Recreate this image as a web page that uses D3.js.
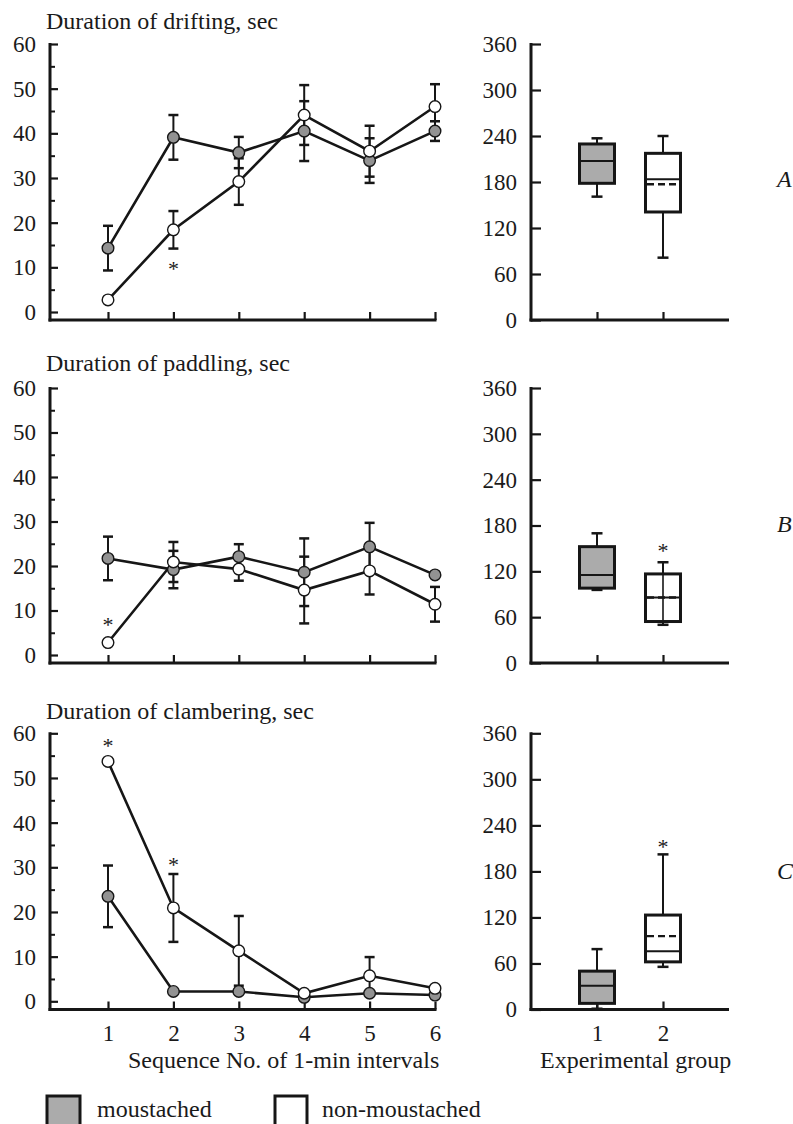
<!DOCTYPE html>
<html><head><meta charset="utf-8">
<script src="https://cdn.jsdelivr.net/npm/d3@7"></script>
<style>
body{margin:0;background:#fff;}
svg{display:block;}
text{font-family:"Liberation Serif","Times New Roman",serif;fill:#1a1a1a;}
</style></head><body>
<svg id="chart" width="793" height="1124"></svg>
<script>
// ---------- data ----------
const intervals = [1, 2, 3, 4, 5, 6];
const groups = [1, 2];
const panelTitles = ["Duration of drifting, sec", "Duration of paddling, sec", "Duration of clambering, sec"];
const panelLetters = ["A", "B", "C"];
const leftTicks = [0, 10, 20, 30, 40, 50, 60];
const leftMinorTicks = [5, 15, 25, 35, 45, 55];
const rightTicks = [0, 60, 120, 180, 240, 300, 360];
const seriesNames = ["moustached", "non-moustached"];
const xAxisTitle = "Sequence No. of 1-min intervals";
const groupAxisTitle = "Experimental group";

// drifting (A)
const driftM     = [14.3, 39.1, 35.7, 40.5, 33.9, 40.5];
const driftMErr  = [5.0, 5.0, 3.5, 6.7, 5.0, 2.2];
const driftN     = [2.7, 18.4, 29.2, 44.1, 36.0, 46.0];
const driftNErr  = [0, 4.2, 5.2, 6.7, 5.7, 5.0];
// paddling (B)
const paddleM    = [21.7, 19.2, 22.1, 18.6, 24.3, 18.0];
const paddleMErr = [4.9, 4.2, 2.8, 7.6, 5.4, 0];
const paddleN    = [2.8, 20.9, 19.3, 14.6, 18.9, 11.4];
const paddleNErr = [0, 4.5, 2.6, 7.5, 5.3, 3.9];
// clambering (C)
const climbM     = [23.5, 2.2, 2.2, 0.9, 1.8, 1.4];
const climbMErr  = [6.9, 0, 0, 0, 0, 0];
const climbN     = [53.7, 20.9, 11.3, 1.8, 5.7, 2.9];
const climbNErr  = [0, 7.6, 7.8, 0, 4.2, 0];

// significance asterisks on the line charts (interval, value)
const lineStars = [[[2, 10.5]], [[1, 7.5]], [[1, 57.9], [2, 31.3]]];

// box plots, per panel [group1, group2]
const boxMin    = [[160.9, 81.3], [95.7, 50.0], [1.0, 55.6]];
const boxQ1     = [[178.3, 140.9], [98.0, 54.3], [8.0, 62.1]];
const boxMedian = [[207.4, 183.5], [115.3, 85.7], [31.0, 76.0]];
const boxMean   = [[null, 177.0], [null, 85.7], [null, 95.6]];
const boxQ3     = [[229.6, 217.4], [152.3, 116.6], [50.0, 123.1]];
const boxMax    = [[237.0, 240.0], [169.8, 131.9], [78.7, 202.2]];
const boxWhiskerThrough = [[false, false], [false, true], [false, false]];
const boxStars  = [[], [[2, 151]], [[2, 217]]];

// ---------- drawing ----------
const lineM = [driftM, paddleM, climbM];
const lineMErr = [driftMErr, paddleMErr, climbMErr];
const lineN = [driftN, paddleN, climbN];
const lineNErr = [driftNErr, paddleNErr, climbNErr];

const INK = "#161616";
const GREY_MARK = "#929292";
const GREY_BOX = "#ababab";
const fmt = d3.format("d");

const panelGeom = [
  {top: 44, zero: 312, base: 320, titleY: 29, letterY: 187},
  {top: 388, zero: 655, base: 663, titleY: 371, letterY: 532},
  {top: 733.3, zero: 1001.3, base: 1009.5, titleY: 719, letterY: 879}
];

const svg = d3.select("#chart");

panelGeom.forEach((g, i) => {
  const x = d3.scaleLinear().domain([1, 6]).range([108, 435]);
  const y = d3.scaleLinear().domain([0, 60]).range([g.zero, g.top]);
  const xR = d3.scaleLinear().domain([0, 3]).range([531, 729]);
  const yR = d3.scaleLinear().domain([0, 360]).range([g.base, g.top]);

  // title
  svg.append("text").attr("x", 46).attr("y", g.titleY)
    .attr("font-size", 24).text(panelTitles[i]);

  // ---- left chart axes ----
  const ay = svg.append("g").attr("transform", "translate(50,0)")
    .call(d3.axisLeft(y).tickValues(leftTicks).tickFormat(fmt).tickSizeInner(-8).tickSizeOuter(0).tickPadding(14));
  ay.attr("font-size", 23);
  ay.select(".domain").remove();
  ay.selectAll("line").attr("stroke", INK).attr("stroke-width", 2.2);

  const aym = svg.append("g").attr("transform", "translate(50,0)")
    .call(d3.axisLeft(y).tickValues(leftMinorTicks).tickSizeInner(-5).tickSizeOuter(0).tickFormat(""));
  aym.select(".domain").remove();
  aym.selectAll("line").attr("stroke", INK).attr("stroke-width", 2);

  const ax = svg.append("g").attr("transform", `translate(0,${g.base})`)
    .call(d3.axisBottom(x).tickValues(intervals).tickFormat(fmt).tickSizeInner(-8).tickSizeOuter(0).tickPadding(15));
  ax.attr("font-size", 23);
  ax.select(".domain").remove();
  ax.selectAll("line").attr("stroke", INK).attr("stroke-width", 2.2);
  if (i < 2) ax.selectAll("text").remove();

  svg.append("line").attr("x1", 50).attr("x2", 50).attr("y1", g.top - 1).attr("y2", g.base + 1.5)
    .attr("stroke", INK).attr("stroke-width", 3);
  svg.append("line").attr("x1", 48.5).attr("x2", x(6) + 1.5).attr("y1", g.base).attr("y2", g.base)
    .attr("stroke", INK).attr("stroke-width", 3);

  // ---- lines ----
  const line = d3.line().x((d, j) => x(intervals[j])).y(d => y(d));
  [lineM[i], lineN[i]].forEach(s => {
    svg.append("path").datum(s).attr("d", line)
      .attr("fill", "none").attr("stroke", INK).attr("stroke-width", 2.6);
  });

  // ---- error bars ----
  const drawErr = (vals, errs) => {
    vals.forEach((v, j) => {
      const e = errs[j];
      if (!e) return;
      const cx = x(intervals[j]);
      const eg = svg.append("g").attr("stroke", INK).attr("stroke-width", 2);
      eg.append("line").attr("x1", cx).attr("x2", cx).attr("y1", y(v - e)).attr("y2", y(v + e));
      [v - e, v + e].forEach(b => {
        eg.append("line").attr("x1", cx - 5).attr("x2", cx + 5).attr("y1", y(b)).attr("y2", y(b))
          .attr("stroke-width", 2.5);
      });
    });
  };
  drawErr(lineM[i], lineMErr[i]);
  drawErr(lineN[i], lineNErr[i]);

  // ---- markers ----
  svg.append("g").selectAll("circle").data(lineM[i]).join("circle")
    .attr("cx", (d, j) => x(intervals[j])).attr("cy", d => y(d)).attr("r", 5.8)
    .attr("fill", GREY_MARK).attr("stroke", INK).attr("stroke-width", 1.4);
  svg.append("g").selectAll("circle").data(lineN[i]).join("circle")
    .attr("cx", (d, j) => x(intervals[j])).attr("cy", d => y(d)).attr("r", 5.8)
    .attr("fill", "#fff").attr("stroke", INK).attr("stroke-width", 1.4);

  // asterisks
  lineStars[i].forEach(([k, v]) => {
    svg.append("text").attr("x", x(k)).attr("y", y(v) + 10.5)
      .attr("text-anchor", "middle").attr("font-size", 22).text("*");
  });

  // ---- right chart axes ----
  const ayr = svg.append("g").attr("transform", "translate(531,0)")
    .call(d3.axisLeft(yR).tickValues(rightTicks).tickFormat(fmt).tickSizeInner(-10).tickSizeOuter(0).tickPadding(14));
  ayr.attr("font-size", 23);
  ayr.select(".domain").remove();
  ayr.selectAll("line").attr("stroke", INK).attr("stroke-width", 2.2);

  const axr = svg.append("g").attr("transform", `translate(0,${g.base})`)
    .call(d3.axisBottom(xR).tickValues(groups).tickFormat(fmt).tickSizeInner(-8).tickSizeOuter(0).tickPadding(15));
  axr.attr("font-size", 23);
  axr.select(".domain").remove();
  axr.selectAll("line").attr("stroke", INK).attr("stroke-width", 2.2);
  if (i < 2) axr.selectAll("text").remove();

  svg.append("line").attr("x1", 531).attr("x2", 531).attr("y1", g.top - 1).attr("y2", g.base + 1.5)
    .attr("stroke", INK).attr("stroke-width", 3);
  svg.append("line").attr("x1", 529.5).attr("x2", 729).attr("y1", g.base).attr("y2", g.base)
    .attr("stroke", INK).attr("stroke-width", 3);

  // ---- boxes ----
  groups.forEach((grp, k) => {
    const cx = xR(grp);
    const w = 35;
    const bg = svg.append("g");
    const wk = bg.append("g").attr("stroke", INK).attr("stroke-width", 2);
    wk.append("line").attr("x1", cx).attr("x2", cx).attr("y1", yR(boxQ3[i][k])).attr("y2", yR(boxMax[i][k]));
    wk.append("line").attr("x1", cx).attr("x2", cx).attr("y1", yR(boxQ1[i][k])).attr("y2", yR(boxMin[i][k]));
    [boxMax[i][k], boxMin[i][k]].forEach(b => {
      wk.append("line").attr("x1", cx - 5.5).attr("x2", cx + 5.5).attr("y1", yR(b)).attr("y2", yR(b))
        .attr("stroke-width", 2.5);
    });
    bg.append("rect").attr("x", cx - w / 2).attr("width", w)
      .attr("y", yR(boxQ3[i][k])).attr("height", yR(boxQ1[i][k]) - yR(boxQ3[i][k]))
      .attr("fill", k === 0 ? GREY_BOX : "#fff").attr("stroke", INK).attr("stroke-width", 3);
    if (boxWhiskerThrough[i][k]) {
      bg.append("line").attr("x1", cx).attr("x2", cx).attr("y1", yR(boxQ3[i][k])).attr("y2", yR(boxQ1[i][k]))
        .attr("stroke", INK).attr("stroke-width", 1.6);
    }
    bg.append("line").attr("x1", cx - w / 2).attr("x2", cx + w / 2)
      .attr("y1", yR(boxMedian[i][k])).attr("y2", yR(boxMedian[i][k]))
      .attr("stroke", INK).attr("stroke-width", 2);
    if (boxMean[i][k] !== null) {
      bg.append("line").attr("x1", cx - w / 2 + 1.5).attr("x2", cx + w / 2 - 1.5)
        .attr("y1", yR(boxMean[i][k])).attr("y2", yR(boxMean[i][k]))
        .attr("stroke", INK).attr("stroke-width", 2.4).attr("stroke-dasharray", "7,4");
    }
  });
  boxStars[i].forEach(([grp, v]) => {
    svg.append("text").attr("x", xR(grp)).attr("y", yR(v) + 10.5)
      .attr("text-anchor", "middle").attr("font-size", 22).text("*");
  });

  // panel letter
  svg.append("text").attr("x", 777).attr("y", g.letterY).attr("font-size", 24)
    .attr("font-style", "italic").text(panelLetters[i]);

  if (i === 2) {
    svg.append("text").attr("x", 128).attr("y", 1068).attr("font-size", 24).text(xAxisTitle);
    svg.append("text").attr("x", 540).attr("y", 1068).attr("font-size", 24).text(groupAxisTitle);
  }
});

// ---- legend ----
const leg = svg.append("g");
leg.append("rect").attr("x", 47).attr("y", 1096).attr("width", 33).attr("height", 40)
  .attr("fill", GREY_BOX).attr("stroke", INK).attr("stroke-width", 3);
leg.append("text").attr("x", 97).attr("y", 1117).attr("font-size", 24).text(seriesNames[0]);
leg.append("rect").attr("x", 275).attr("y", 1096).attr("width", 32).attr("height", 40)
  .attr("fill", "#fff").attr("stroke", INK).attr("stroke-width", 3);
leg.append("text").attr("x", 322).attr("y", 1117).attr("font-size", 24).text(seriesNames[1]);
</script>
</body></html>
